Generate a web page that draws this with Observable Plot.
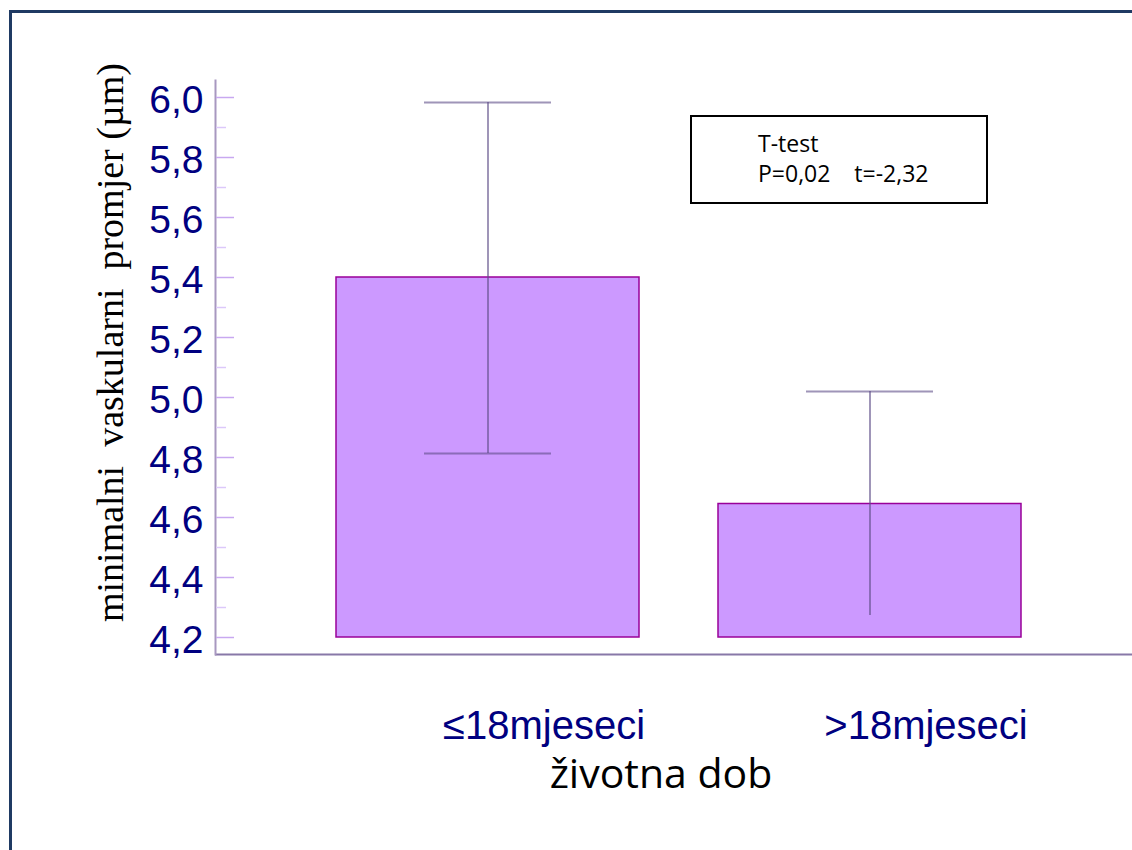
<!DOCTYPE html>
<html><head><meta charset="utf-8">
<script src="https://cdn.jsdelivr.net/npm/d3@7"></script>
<script src="https://cdn.jsdelivr.net/npm/@observablehq/plot@0.6"></script>
<style>
html,body{margin:0;padding:0;background:#fff;overflow:hidden;width:1132px;height:850px}
#wrap{position:relative;width:1132px;height:850px;overflow:hidden}
#wrap svg{position:absolute;left:0;top:0}
#wrap svg text{white-space:pre}
#frame{position:absolute;left:9px;top:10px;width:1300px;height:1000px;border-top:3px solid #1f3a63;border-left:3px solid #1f3a63;pointer-events:none}
#legend{position:absolute;left:690px;top:115px;width:294px;height:85px;border:2px solid #000;background:#fff;font-family:"Open Sans",sans-serif;font-size:23px;line-height:30px;color:#000;box-sizing:content-box}
#legend div{position:absolute;left:66px;white-space:pre}
</style>
</head><body>
<div id="wrap">
<div id="frame"></div>
<div id="legend"><div style="top:11px">T-test</div><div style="top:41px">P=0,02    t=-2,32</div></div>
</div>
<script>
const categories = ["≤18mjeseci", ">18mjeseci"];
const means = [5.40, 4.645];
const errLow = [4.813, 4.273];
const errHigh = [5.983, 5.02];
const capCategories = ["≤18mjeseci", "≤18mjeseci", ">18mjeseci"];
const capValues = [4.813, 5.983, 5.02];
const barBase = 4.2;
const yMajorTicks = [4.2, 4.4, 4.6, 4.8, 5.0, 5.2, 5.4, 5.6, 5.8, 6.0];
const yMinorTicks = [4.3, 4.5, 4.7, 4.9, 5.1, 5.3, 5.5, 5.7, 5.9];
const yDomain = [4.14333, 6.05667];
const yTitle = "minimalni  vaskularni  promjer (µm)";
const xTitle = "životna dob";

const data = categories.map((c, i) => ({cat: c, mean: means[i], lo: errLow[i], hi: errHigh[i]}));
const caps = capCategories.map((c, i) => ({cat: c, v: capValues[i]}));
const fmt = d => d.toFixed(1).replace(".", ",");

const errColor = "#5f4f88";

const chart = Plot.plot({
  width: 1132,
  height: 850,
  marginLeft: 215,
  marginRight: 0,
  marginTop: 80,
  marginBottom: 196,
  style: {background: "transparent"},
  x: {type: "band", domain: categories, range: [335, 1022], paddingInner: 0.206, paddingOuter: 0},
  y: {domain: yDomain},
  marks: [
    Plot.barY(data, {x: "cat", y1: barBase, y2: "mean", fill: "#cc99ff", stroke: "#990099", strokeWidth: 1.5}),
    Plot.ruleX(data, {x: "cat", y1: "lo", y2: "hi", stroke: errColor, strokeOpacity: 0.6, strokeWidth: 2}),
    Plot.tickY(caps, {x: "cat", y: "v", insetLeft: 88, insetRight: 88, stroke: errColor, strokeOpacity: 0.6, strokeWidth: 2}),
    Plot.ruleY([yDomain[0]], {stroke: "#8878a8", strokeWidth: 2}),
    Plot.frame({anchor: "left", stroke: "#a898c0", strokeWidth: 2}),
    Plot.axisY({ticks: yMajorTicks, anchor: "right", frameAnchor: "left", tickSize: 18, fill: "none", label: null, stroke: "#c8a8f0", strokeWidth: 1.5}),
    Plot.axisY({ticks: yMinorTicks, anchor: "right", frameAnchor: "left", tickSize: 10, fill: "none", label: null, stroke: "#dcc8fa", strokeWidth: 1.5}),
    Plot.axisY({ticks: yMajorTicks, tickSize: 0, tickPadding: 12, tickFormat: fmt, label: null, fontSize: 39, fontFamily: "Arial, 'Liberation Sans', sans-serif", fill: "#000080", dy: 3}),
    Plot.axisX({tickSize: 0, tickPadding: 56, label: null, fontSize: 40, fontFamily: "Arial, 'Liberation Sans', sans-serif", fill: "#000080", dx: 56}),
    Plot.text([yTitle], {text: d => d, frameAnchor: "left", textAnchor: "middle", rotate: -90, dx: -105, dy: -25, fontFamily: "'Liberation Serif', 'Times New Roman', serif", fontSize: 38, fill: "#000"}),
    Plot.text([xTitle], {text: d => d, frameAnchor: "bottom", textAnchor: "middle", lineAnchor: "bottom", dx: -13, dy: 133, fontFamily: "'Open Sans', sans-serif", fontSize: 41, fill: "#000"})
  ]
});
document.getElementById("wrap").prepend(chart);
</script>
</body></html>
